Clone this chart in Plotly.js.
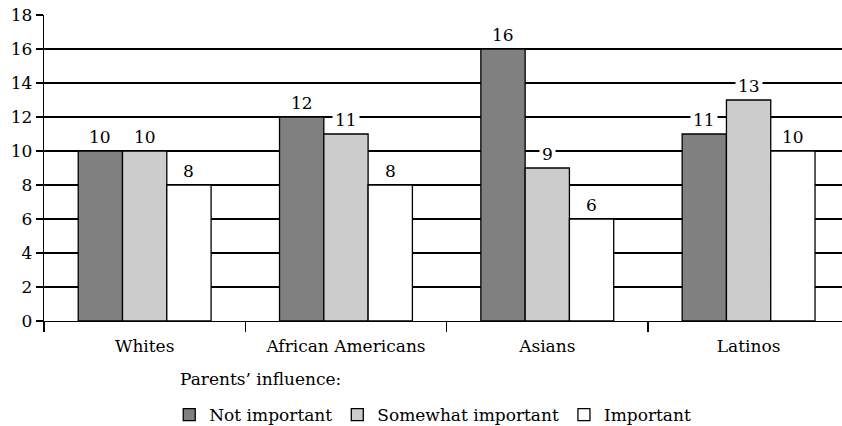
<!DOCTYPE html>
<html>
<head>
<meta charset="utf-8">
<script src="https://cdn.plot.ly/plotly-3.0.1.min.js"></script>
<style>
  html, body { margin: 0; padding: 0; background: #fff; }
  #chart { width: 842px; height: 426px; }
</style>
</head>
<body>
<div id="chart"></div>
<script>
// Groups on the x axis
const groups = ["Whites", "African Americans", "Asians", "Latinos"];

// One series per level of parents' influence
const seriesNames = ["Not important", "Somewhat important", "Important"];
const notImportant = [10, 12, 16, 11];
const somewhatImportant = [10, 11, 9, 13];
const important = [8, 8, 6, 10];
const seriesValues = [notImportant, somewhatImportant, important];

const yTicks = [0, 2, 4, 6, 8, 10, 12, 14, 16, 18];
const legendHeading = "Parents\u2019 influence:";

const fills = ["#808080", "#cccccc", "#ffffff"];
const FONT = "DejaVu Serif, serif";

const BARGAP = 0.34;
const barWidth = (1 - BARGAP) / seriesValues.length;

const traces = seriesValues.map((vals, s) => ({
  type: "bar",
  name: seriesNames[s],
  x: groups,
  y: vals,
  marker: { color: fills[s], line: { color: "#000", width: 1.3 } },
  hoverinfo: "none"
}));

// Value labels sit on a white box above each bar, breaking the gridlines
const annotations = [];
seriesValues.forEach((vals, s) => {
  const offset = (s - (seriesValues.length - 1) / 2) * barWidth;
  vals.forEach((v, i) => {
    annotations.push({
      x: i + offset, y: v, xref: "x", yref: "y",
      text: String(v), showarrow: false,
      yanchor: "bottom", xanchor: "center",
      bgcolor: "#ffffff", borderpad: 2, yshift: 1,
      font: { family: FONT, size: 17, color: "#000" }
    });
  });
});

// Heading line above the legend row
annotations.push({
  x: 0.1679, y: -0.19, xref: "paper", yref: "paper",
  xanchor: "left", yanchor: "middle",
  text: legendHeading, showarrow: false,
  font: { family: FONT, size: 17, color: "#000" }
});

const layout = {
  width: 842, height: 426,
  margin: { l: 44, r: 0, t: 15, b: 105 },
  paper_bgcolor: "#fff", plot_bgcolor: "#fff",
  font: { family: FONT, size: 17, color: "#000" },
  barmode: "group", bargap: BARGAP, bargroupgap: 0,
  xaxis: {
    type: "category",
    range: [-0.5, 3.464],
    showline: true, linecolor: "#000", linewidth: 1.3,
    ticks: "outside", tickson: "boundaries", ticklen: 10, tickcolor: "#000", tickwidth: 1.3,
    ticklabelstandoff: 9,
    showgrid: false, zeroline: false,
    tickfont: { family: FONT, size: 17, color: "#000" }
  },
  yaxis: {
    range: [0, 18],
    tickvals: yTicks,
    showline: true, linecolor: "#000", linewidth: 1.3,
    ticks: "outside", ticklen: 7, tickcolor: "#000", tickwidth: 1.3,
    showgrid: true, gridcolor: "#000", gridwidth: 1.3,
    zeroline: false,
    tickfont: { family: FONT, size: 17, color: "#000" }
  },
  showlegend: true,
  legend: {
    orientation: "h",
    xref: "container", yref: "container",
    x: 0.201, xanchor: "left",
    y: 0.068, yanchor: "top",
    font: { family: FONT, size: 17, color: "#000" },
    bgcolor: "rgba(0,0,0,0)",
    traceorder: "normal"
  },
  annotations: annotations
};

Plotly.newPlot("chart", traces, layout, { staticPlot: true, displayModeBar: false });
</script>
</body>
</html>
